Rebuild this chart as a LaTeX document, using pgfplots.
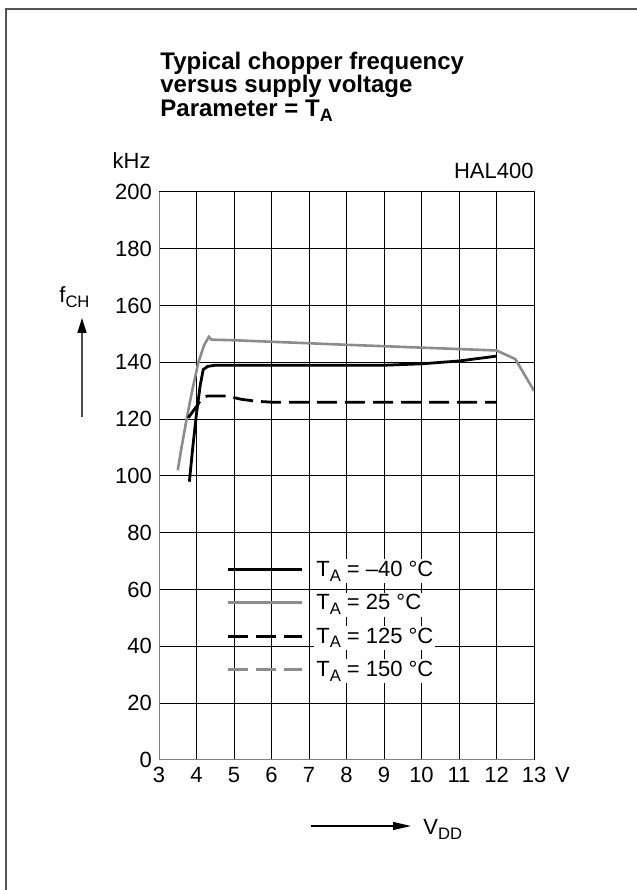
\documentclass[border=0pt]{standalone}
\usepackage{fontspec}
\setmainfont{Liberation Sans}
\usepackage{pgfplots}
\pgfplotsset{compat=1.18}
\usetikzlibrary{arrows.meta}

\definecolor{curvegray}{RGB}{140,140,140}
\definecolor{framegray}{RGB}{85,85,85}
\newcommand\lt[1]{{\setlength{\fboxsep}{1pt}\colorbox{white}{#1}}}
\newcommand\sub[1]{\raisebox{-2.3pt}{\fontsize{8.3}{9}\selectfont #1}}

% T_A = -40 C
\pgfplotstableread{
x y
3.81 98
3.90 110
4.00 122
4.10 132
4.18 137.5
4.30 138.6
4.50 139
7.00 139
9.00 139
10.0 139.5
11.0 140.5
12.0 142.2
}\tabmforty

% T_A = 25 C
\pgfplotstableread{
x y
3.50 102
3.60 110
3.75 121
3.90 131
4.05 140
4.20 146
4.33 149
4.40 148
5.00 147.8
8.00 146.2
12.0 144.2
12.5 141.2
13.0 130
}\tabtwentyfive

% T_A = 125 C
\pgfplotstableread{
x y
3.78 120.5
4.00 124.5
4.15 127.5
4.30 128.2
4.80 128.2
5.20 127
5.60 126.3
6.00 126
12.0 126
}\tabonetwentyfive

\begin{document}
\begin{tikzpicture}[font=\fontsize{11}{13}\selectfont]
\useasboundingbox (0,0) rectangle (318.5pt,445pt);
\draw[framegray, line width=1pt] (3pt,0) -- (3pt,440.5pt) -- (318.5pt,440.5pt);

\node[anchor=base west, inner sep=0, font=\fontsize{12}{13}\selectfont\bfseries] at (80pt,410.3pt) {Typical chopper frequency};
\node[anchor=base west, inner sep=0, font=\fontsize{12}{13}\selectfont\bfseries] at (80pt,398.5pt) {versus supply voltage};
\node[anchor=base west, inner sep=0, font=\fontsize{12}{13}\selectfont\bfseries] at (80pt,386.5pt) {Parameter = T\raisebox{-2.4pt}{\fontsize{9}{10}\selectfont A}};

\node[anchor=base east, inner sep=0] at (75.5pt,360.5pt) {kHz};
\node[anchor=base east, inner sep=0] at (267pt,355.5pt) {HAL400};
\node[anchor=base west, inner sep=0] at (29.5pt,293.5pt) {f\sub{CH}};
\draw[black!70, line width=0.8pt, -{Triangle[width=4.5pt,length=7.5pt,black]}] (41pt,236.5pt) -- (41pt,286pt);
\draw[black, line width=0.6pt, -{Triangle[width=4pt,length=9pt]}] (155.5pt,32pt) -- (205.5pt,32pt);
\node[anchor=base west, inner sep=0] at (211.5pt,27.5pt) {V\sub{DD}};

\begin{axis}[
  at={(79.5pt,65pt)}, anchor=south west,
  scale only axis, width=187.5pt, height=284pt,
  xmin=3, xmax=13, ymin=0, ymax=200,
  xtick={3,4,...,13}, ytick={0,20,...,200},
  grid=major, major grid style={black, line width=0.5pt},
  axis line style={black, line width=0.5pt},
  tick style={draw=none},
  /pgf/number format/assume math mode=true,
  ticklabel style={font=\fontsize{11}{13}\selectfont},
  legend style={at={(0.163,0.363)}, anchor=north west, draw=none, fill=none,
    row sep=5.5pt, nodes={inner sep=0.5pt},
    /tikz/every odd column/.append style={column sep=5pt}},
  legend cell align=left,
  legend image code/.code={\draw[#1] (0pt,0pt) -- (37pt,0pt);},
]
\addplot[black, line width=1.4pt] table[x=x, y=y] {\tabmforty};
\addlegendentry{\lt{T\sub{A} = –40 °C}}
\addplot[curvegray, line width=1.3pt] table[x=x, y=y] {\tabtwentyfive};
\addlegendentry{\lt{T\sub{A} = 25 °C}}
\addplot[black, line width=1.4pt, dash pattern=on 10pt off 4pt] table[x=x, y=y] {\tabonetwentyfive};
\addlegendentry{\lt{T\sub{A} = 125 °C}}
\addlegendimage{curvegray, line width=1.3pt, dash pattern=on 10pt off 4pt}
\addlegendentry{\lt{T\sub{A} = 150 °C}}
\draw[curvegray!90!black, line width=1pt] (rel axis cs:0,1) -- (rel axis cs:0,0) -- (rel axis cs:1,0);
\end{axis}
\node[anchor=north west, inner sep=0.333em] at (274pt,65pt) {V};
\end{tikzpicture}
\end{document}
